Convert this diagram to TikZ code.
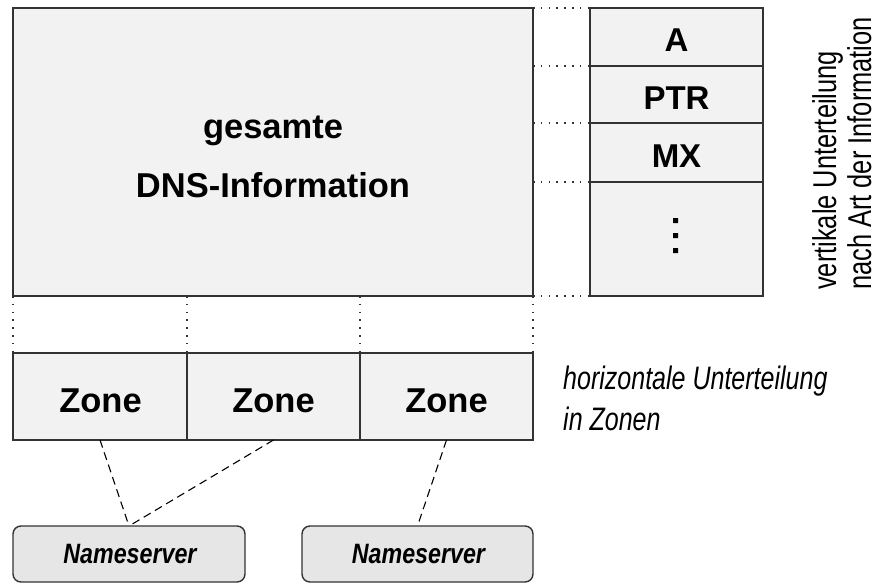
\documentclass[tikz,border=0pt]{standalone}
\usepackage{fontspec}
\setmainfont{Liberation Sans}
\newfontfamily\narrowfont[FakeStretch=0.77]{Liberation Sans}
\newfontfamily\nsfont[FakeStretch=0.83]{Liberation Sans}
\definecolor{boxline}{HTML}{333333}
\definecolor{boxfill}{HTML}{F2F2F2}
\definecolor{serverfill}{HTML}{E6E6E6}
\begin{document}
\begin{tikzpicture}[x=1pt,y=-1pt,
  area/.style={draw=boxline, fill=boxfill, line width=1.4pt, inner sep=0pt,
    outer sep=0pt, anchor=north west},
  server/.style={area, fill=serverfill, rounded corners=8pt},
  biglabel/.style={inner sep=0pt, anchor=base, font=\bfseries\fontsize{34.5}{40}\selectfont},
  celllabel/.style={inner sep=0pt, anchor=base, font=\bfseries\fontsize{33}{40}\selectfont},
  serverlabel/.style={inner sep=0pt, anchor=base, font=\nsfont\bfseries\itshape\fontsize{28}{32}\selectfont},
  note/.style={inner sep=0pt, anchor=base west, font=\narrowfont\itshape\fontsize{32.5}{38}\selectfont},
  sidenote/.style={inner sep=0pt, anchor=base west, rotate=90, font=\narrowfont\fontsize{33}{38}\selectfont},
  dotline/.style={draw=boxline, line width=1.3pt, dash pattern=on 1.6pt off 6.2pt},
  dashline/.style={draw=black, line width=1.1pt, dash pattern=on 8pt off 5pt}]
\useasboundingbox (0,0) rectangle (878,584);

% the whole DNS information
\node[area, minimum width=520pt, minimum height=288pt] (info) at (13,8) {};
\node[biglabel] (ges) at (273,138) {gesamte};
\node[biglabel] (dns) at (273,197) {DNS-Information};

% split by record type
\node[area, minimum width=173pt, minimum height=58pt] (cA) at (590,8) {};
\node[area, minimum width=173pt, minimum height=57pt] (cPTR) at (590,66) {};
\node[area, minimum width=173pt, minimum height=59pt] (cMX) at (590,123) {};
\node[area, minimum width=173pt, minimum height=114pt] (cMore) at (590,182) {};
\node[celllabel] (tA) at (676.5,51) {A};
\node[celllabel] (tPTR) at (676.5,109) {PTR};
\node[celllabel] (tMX) at (676.5,167) {MX};
\fill[black] (673,218) rectangle (678,223)
             (673,233) rectangle (678,238)
             (673,248) rectangle (678,253);

% split into zones
\node[area, minimum width=174pt, minimum height=87pt] (z1) at (13,353) {};
\node[area, minimum width=173pt, minimum height=87pt] (z2) at (187,353) {};
\node[area, minimum width=173pt, minimum height=87pt] (z3) at (360,353) {};
\node[biglabel] (tz1) at (100.5,412) {Zone};
\node[biglabel] (tz2) at (273.5,412) {Zone};
\node[biglabel] (tz3) at (446.5,412) {Zone};

% name servers
\node[server, minimum width=232pt, minimum height=56pt] (ns1) at (13,526) {};
\node[server, minimum width=231pt, minimum height=56pt] (ns2) at (302,526) {};
\node[serverlabel] (tns1) at (130,563) {Nameserver};
\node[serverlabel] (tns2) at (418.5,563) {Nameserver};

% dotted guides between the views
\draw[dotline] (info.south west) -- (z1.north west);
\draw[dotline] (z1.north east |- info.south) -- (z1.north east);
\draw[dotline] (z2.north east |- info.south) -- (z2.north east);
\draw[dotline] (info.south east) -- (z3.north east);
\draw[dotline] (info.north east) -- (cA.north west);
\draw[dotline] (info.east |- cPTR.north west) -- (cPTR.north west);
\draw[dotline] (info.east |- cMX.north west) -- (cMX.north west);
\draw[dotline] (info.east |- cMore.north west) -- (cMore.north west);
\draw[dotline] (info.south east) -- (cMore.south west);

% zone to name server assignment
\draw[dashline] (z1.south) -- (ns1.north);
\draw[dashline] (z2.south) -- (ns1.north);
\draw[dashline] (z3.south) -- (ns2.north);

% explanations
\node[note] (hnote1) at (563,389) {horizontale Unterteilung};
\node[note] (hnote2) at (563,430) {in Zonen};
\node[sidenote] (vnote1) at (836,290) {vertikale Unterteilung};
\node[sidenote] (vnote2) at (871,290) {nach Art der Information};
\end{tikzpicture}
\end{document}
